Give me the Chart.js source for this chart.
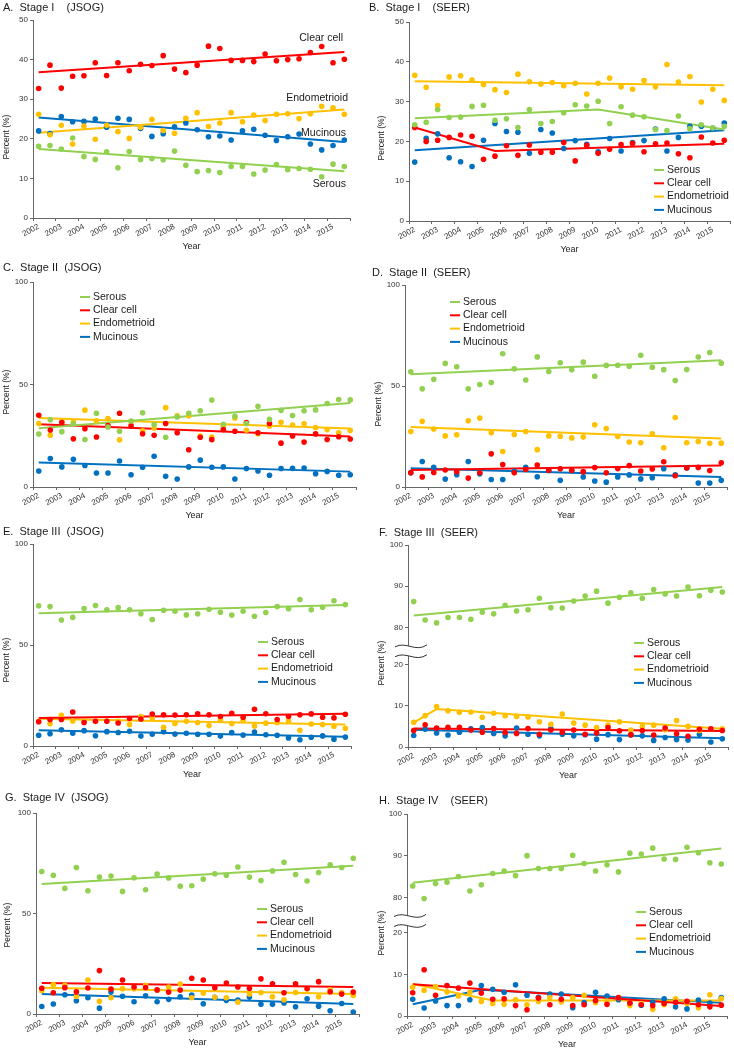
<!DOCTYPE html>
<html>
<head>
<meta charset="utf-8">
<script src="https://cdn.jsdelivr.net/npm/chart.js@4.4.0/dist/chart.umd.min.js"></script>
<style>
  body { margin: 0; background: #fff; width: 734px; height: 1050px; position: relative; overflow: hidden; font-family: "Liberation Sans", Arial, sans-serif; }
  canvas { position: absolute; }
  .ttl { position: absolute; font-size: 11px; line-height: 12px; white-space: pre; color: #1a1a1a; }
</style>
</head>
<body>
<script>
// x positions are half-years, 2002 (1st half) ... 2015 (2nd half)
const years = [2002, 2003, 2004, 2005, 2006, 2007, 2008, 2009, 2010, 2011, 2012, 2013, 2014, 2015];
const seriesNames = ['Serous', 'Clear cell', 'Endometrioid', 'Mucinous'];
const yTicksStage1 = [0, 10, 20, 30, 40, 50];
const yTicksFull = [0, 50, 100];
const yTicksLow = [0, 10, 20];
const yTicksHigh = [80, 90, 100];

// A. Stage I (JSOG)
const aSerous = [18.1, 18.3, 17.4, 20.2, 15.5, 14.8, 16.7, 12.7, 16.8, 14.8, 15.0, 14.7, 16.9, 13.3, 11.7, 12.0, 11.5, 13.0, 13.0, 11.1, 12.1, 13.5, 12.2, 12.5, 12.3, 10.4, 13.6, 13.0];
const aClear = [32.7, 38.6, 32.8, 35.8, 35.9, 39.2, 36.0, 39.2, 37.2, 38.8, 38.5, 41.0, 37.6, 36.7, 38.6, 43.4, 42.8, 39.8, 39.8, 39.5, 41.4, 39.7, 40.0, 40.2, 41.8, 43.3, 39.2, 40.1];
const aEndo = [26.2, 21.0, 23.4, 18.7, 23.2, 19.9, 23.4, 21.8, 20.1, 22.9, 24.9, 22.1, 21.4, 25.2, 26.6, 23.1, 24.0, 26.6, 24.3, 26.0, 24.6, 26.2, 26.3, 25.1, 26.3, 28.2, 27.8, 26.2];
const aMuc = [22.0, 21.3, 25.6, 24.3, 24.4, 25.0, 22.9, 25.2, 24.9, 22.6, 20.6, 21.3, 23.0, 24.0, 22.3, 20.5, 20.7, 19.7, 22.0, 22.4, 20.9, 19.6, 20.5, 21.2, 18.7, 17.2, 18.3, 19.7];
const aSerousFit = [[0, 17.4], [27, 11.8]];
const aClearFit = [[0, 36.8], [27, 41.9]];
const aEndoFit = [[0, 21.5], [27, 27.4]];
const aMucFit = [[0, 25.4], [27, 19.2]];

// B. Stage I (SEER)
const bSerous = [24.2, 24.8, 28.0, 26.0, 26.1, 28.8, 29.1, 25.3, 25.7, 23.5, 28.0, 24.5, 25.0, 27.2, 29.2, 28.9, 30.1, 24.5, 28.7, 26.6, 26.2, 23.0, 22.7, 26.4, 23.2, 24.2, 23.4, 23.8];
const bClear = [23.5, 20.0, 20.3, 21.0, 21.6, 21.3, 15.5, 16.3, 18.9, 16.5, 19.1, 17.3, 17.3, 19.7, 15.1, 19.0, 17.0, 18.0, 19.2, 19.5, 17.4, 19.4, 19.6, 16.9, 15.9, 21.1, 19.6, 20.3];
const bEndo = [36.6, 33.6, 29.0, 36.2, 36.5, 35.4, 34.3, 33.0, 32.3, 36.9, 35.0, 34.4, 34.8, 34.0, 34.6, 31.9, 34.6, 35.9, 33.7, 33.1, 35.3, 33.7, 39.3, 34.9, 36.3, 29.9, 33.1, 30.3];
const bMuc = [14.8, 20.8, 21.9, 15.9, 14.9, 13.7, 20.3, 24.5, 22.5, 22.3, 17.0, 23.0, 22.1, 18.2, 20.2, 19.3, 17.4, 20.7, 17.6, 19.7, 20.2, 23.1, 17.6, 21.0, 23.8, 23.8, 23.3, 24.6];
const bSerousFit = [[0, 25.8], [16, 28.0], [27, 23.0]];
const bClearFit = [[0, 23.5], [7, 17.6], [27, 19.4]];
const bEndoFit = [[0, 35.1], [27, 34.1]];
const bMucFit = [[0, 17.8], [27, 22.8]];

// C. Stage II (JSOG)
const cSerous = [25.8, 32.8, 27.0, 30.8, 23.2, 36.0, 29.3, 27.2, 32.2, 36.2, 30.5, 24.3, 34.2, 36.0, 37.2, 42.4, 30.6, 34.5, 31.0, 39.4, 33.0, 37.4, 34.9, 37.2, 37.6, 40.7, 42.7, 42.5];
const cClear = [35.0, 27.8, 31.5, 23.5, 28.4, 24.4, 30.0, 36.0, 29.8, 26.0, 25.2, 31.0, 26.5, 18.2, 24.3, 23.1, 28.0, 27.2, 31.5, 26.5, 31.0, 21.4, 24.9, 21.9, 25.9, 23.2, 24.5, 23.4];
const cEndo = [31.0, 25.3, 31.9, 31.7, 37.5, 32.3, 33.4, 23.0, 31.8, 27.4, 28.8, 38.7, 34.7, 34.7, 24.9, 24.4, 29.6, 33.7, 27.7, 26.0, 29.8, 31.6, 30.2, 30.8, 29.0, 28.0, 26.5, 27.6];
const cMuc = [7.8, 13.9, 9.8, 13.5, 10.5, 6.8, 6.8, 12.7, 6.0, 9.6, 15.0, 5.2, 3.9, 9.8, 13.1, 9.6, 9.8, 3.9, 9.0, 7.8, 5.7, 9.0, 9.1, 9.3, 6.5, 7.6, 5.7, 6.0];
const cSerousFit = [[0, 28.6], [27, 41.0]];
const cClearFit = [[0, 30.6], [27, 24.6]];
const cEndoFit = [[0, 33.6], [27, 28.5]];
const cMucFit = [[0, 12.0], [27, 7.5]];

// D. Stage II (SEER)
const dSerous = [57.0, 48.6, 53.3, 61.2, 59.5, 48.6, 50.7, 51.7, 66.0, 58.5, 53.0, 64.4, 57.2, 61.5, 58.0, 61.8, 54.8, 60.2, 60.3, 59.8, 65.2, 59.3, 58.1, 52.7, 58.2, 64.3, 66.6, 61.3];
const dClear = [7.0, 5.0, 7.2, 8.4, 7.6, 4.4, 7.0, 16.4, 11.1, 7.0, 8.7, 10.9, 8.3, 9.0, 8.3, 7.6, 9.6, 7.0, 9.1, 10.6, 7.9, 8.9, 12.5, 5.6, 9.4, 9.7, 8.2, 12.0];
const dEndo = [27.5, 32.5, 28.7, 25.3, 25.9, 32.8, 34.1, 26.8, 17.6, 26.0, 27.5, 18.5, 25.3, 25.0, 24.3, 24.7, 30.8, 28.9, 25.0, 22.3, 21.9, 26.3, 19.4, 34.4, 21.9, 22.5, 21.6, 21.7];
const dMuc = [7.0, 12.6, 9.7, 3.9, 6.1, 12.6, 6.5, 3.7, 3.7, 7.8, 9.7, 5.1, 8.2, 3.3, 8.2, 5.0, 3.0, 2.4, 5.0, 6.0, 4.0, 4.6, 9.0, 6.0, 9.4, 2.0, 2.0, 3.3];
const dSerousFit = [[0, 55.8], [27, 62.8]];
const dClearFit = [[0, 8.4], [27, 10.6]];
const dEndoFit = [[0, 29.7], [27, 24.0]];
const dMucFit = [[0, 9.3], [27, 5.0]];

// E. Stage III (JSOG)
const eSerous = [69.4, 69.0, 62.4, 63.7, 68.1, 69.5, 67.4, 68.5, 67.4, 65.5, 62.6, 67.2, 66.7, 64.9, 65.5, 67.7, 66.2, 64.8, 66.7, 64.2, 66.1, 69.0, 68.0, 72.5, 67.4, 68.7, 71.9, 70.0];
const eClear = [12.0, 13.1, 13.1, 16.8, 11.6, 12.2, 12.2, 11.4, 13.6, 13.4, 15.8, 15.5, 15.3, 15.5, 15.9, 15.5, 14.6, 16.2, 14.2, 18.2, 16.0, 13.1, 14.6, 15.5, 15.9, 14.2, 13.9, 15.7];
const eEndo = [12.2, 11.1, 15.2, 12.4, 12.2, 12.4, 12.4, 12.2, 10.6, 14.6, 13.9, 9.3, 11.2, 12.2, 11.6, 10.1, 12.9, 11.1, 12.6, 9.9, 11.3, 11.6, 12.4, 7.8, 10.9, 10.6, 9.8, 8.8];
const eMuc = [5.3, 6.1, 8.0, 6.3, 7.6, 5.1, 7.1, 6.7, 7.3, 4.9, 5.9, 7.1, 5.9, 6.3, 5.8, 5.8, 4.9, 6.6, 5.4, 6.9, 5.6, 5.3, 4.0, 3.1, 4.3, 5.0, 3.4, 4.4];
const eSerousFit = [[0, 65.7], [27, 69.8]];
const eClearFit = [[0, 13.9], [27, 16.0]];
const eEndoFit = [[0, 13.5], [27, 10.6]];
const eMucFit = [[0, 7.8], [27, 4.6]];

// F. Stage III (SEER)
const fSerous = [86.3, 81.8, 81.1, 82.4, 82.4, 82.0, 83.7, 83.3, 85.4, 84.0, 84.3, 87.1, 84.8, 84.7, 86.4, 87.6, 88.8, 85.9, 87.3, 88.4, 87.1, 89.2, 88.1, 87.6, 89.8, 87.7, 89.0, 88.6];
const fClear = [4.0, 5.4, 4.6, 4.8, 4.8, 4.1, 3.6, 4.5, 3.5, 3.3, 4.5, 3.1, 4.1, 3.6, 4.1, 3.1, 3.4, 4.7, 3.9, 3.0, 4.0, 2.9, 4.6, 3.2, 2.6, 4.3, 4.4, 4.0];
const fEndo = [6.0, 7.6, 9.8, 8.8, 8.4, 8.5, 7.2, 8.2, 7.6, 7.4, 7.3, 6.1, 5.5, 8.0, 5.8, 5.3, 4.7, 5.3, 6.1, 4.1, 5.0, 5.3, 4.2, 6.4, 5.0, 4.0, 4.4, 4.4];
const fMuc = [2.8, 4.3, 3.4, 2.9, 3.6, 4.4, 4.7, 3.3, 2.7, 4.6, 3.1, 2.7, 4.5, 3.1, 2.7, 3.0, 1.9, 3.0, 1.8, 2.9, 2.7, 1.6, 2.3, 1.8, 1.7, 3.1, 1.2, 2.0];
const fSerousFit = [[0, 82.9], [27, 89.8]];
const fClearFit = [[0, 4.5], [27, 3.9]];
const fEndoFit = [[0, 5.9], [2, 9.2], [27, 4.4]];
const fMucFit = [[0, 4.2], [27, 2.1]];

// G. Stage IV (JSOG)
const gSerous = [70.9, 69.0, 62.5, 72.9, 61.3, 68.1, 68.6, 61.0, 67.8, 61.8, 69.6, 67.7, 63.6, 63.8, 67.1, 69.8, 69.0, 73.1, 68.1, 66.4, 71.2, 75.5, 69.4, 66.2, 70.4, 74.2, 72.9, 77.5];
const gClear = [12.8, 10.6, 13.1, 11.0, 12.9, 21.6, 12.4, 16.9, 13.4, 13.2, 12.0, 10.9, 11.9, 17.8, 16.9, 13.1, 15.4, 13.4, 12.7, 17.5, 15.0, 10.6, 15.0, 12.7, 16.1, 11.1, 9.9, 10.9];
const gEndo = [11.6, 14.6, 14.3, 8.8, 16.9, 6.3, 8.1, 12.6, 12.6, 14.3, 11.9, 13.4, 14.9, 8.1, 10.4, 8.3, 8.1, 5.9, 10.0, 10.7, 8.6, 7.1, 10.7, 12.4, 8.6, 12.1, 10.7, 9.2];
const gMuc = [3.7, 5.0, 9.6, 6.6, 8.1, 2.9, 10.9, 8.8, 6.1, 9.1, 6.1, 7.3, 8.6, 9.4, 5.1, 8.3, 6.8, 6.9, 8.4, 4.8, 4.8, 5.5, 3.6, 7.6, 3.9, 1.6, 5.2, 1.0];
const gSerousFit = [[0, 64.7], [27, 73.8]];
const gClearFit = [[0, 15.4], [27, 13.4]];
const gEndoFit = [[0, 13.1], [27, 9.9]];
const gMucFit = [[0, 9.9], [27, 5.0]];

// H. Stage IV (SEER)
const hSerous = [82.7, 79.7, 83.3, 83.6, 85.0, 81.5, 83.0, 85.7, 86.3, 85.2, 90.0, 86.9, 86.9, 86.9, 90.1, 88.1, 86.3, 87.8, 86.1, 90.6, 90.4, 91.8, 89.2, 89.1, 92.0, 90.7, 88.3, 88.0];
const hClear = [5.6, 11.1, 5.0, 7.3, 6.7, 7.9, 5.5, 4.0, 4.1, 2.5, 1.5, 4.3, 2.7, 4.0, 2.5, 2.7, 3.7, 2.8, 4.4, 3.1, 2.7, 2.5, 3.0, 3.3, 3.5, 2.7, 2.2, 2.6];
const hEndo = [6.9, 6.2, 7.1, 5.8, 4.8, 5.7, 3.5, 3.0, 2.8, 3.9, 2.7, 3.5, 4.4, 3.4, 4.4, 5.0, 3.2, 3.6, 4.4, 2.5, 3.0, 1.6, 2.7, 4.1, 3.0, 2.0, 5.1, 4.2];
const hMuc = [4.0, 1.9, 3.6, 2.5, 2.5, 3.9, 7.3, 6.4, 5.7, 7.5, 5.0, 4.5, 5.3, 5.3, 2.0, 3.2, 5.7, 4.8, 3.9, 3.0, 2.6, 3.3, 4.1, 2.2, 1.7, 3.8, 3.1, 4.4];
const hSerousFit = [[0, 83.5], [27, 91.7]];
const hClearFit = [[0, 7.6], [27, 2.4]];
const hEndoFit = [[0, 7.7], [7, 3.7], [27, 3.7]];
const hMucFit = [[0, 2.8], [6, 6.3], [27, 3.2]];

const colors = ['#92D050', '#FF0000', '#FFC000', '#0070C0'];
const FONT = '"Liberation Sans", Arial, sans-serif';
const AXIS = '#666666';
Chart.defaults.font.family = FONT;
Chart.defaults.color = '#333';

// layout of each panel, page coordinates: plot = [left, top, right, bottom]
const panels = [
  { title: 'A.  Stage I    (JSOG)', box: [0, 0], plot: [33, 20, 350, 218], titleAt: [3, 7], yTitleAt: [7, 137],
    yTicks: yTicksStage1, series: [aSerous, aClear, aEndo, aMuc], fits: [aSerousFit, aClearFit, aEndoFit, aMucFit],
    inline: [['Clear cell', 343, 38], ['Endometrioid', 348, 98], ['Mucinous', 346, 133], ['Serous', 346, 184]] },
  { title: 'B.  Stage I    (SEER)', box: [367, 0], plot: [409, 22, 730, 221], titleAt: [369, 7], yTitleAt: [382, 138],
    yTicks: yTicksStage1, series: [bSerous, bClear, bEndo, bMuc], fits: [bSerousFit, bClearFit, bEndoFit, bMucFit],
    legendAt: [654, 170] },
  { title: 'C.  Stage II  (JSOG)', box: [0, 255], plot: [33, 282, 356, 487], titleAt: [3, 267], yTitleAt: [7, 392],
    yTicks: yTicksFull, series: [cSerous, cClear, cEndo, cMuc], fits: [cSerousFit, cClearFit, cEndoFit, cMucFit],
    legendAt: [80, 297] },
  { title: 'D.  Stage II  (SEER)', box: [367, 255], plot: [405, 285, 727, 487], titleAt: [372, 272], yTitleAt: [379, 404],
    yTicks: yTicksFull, series: [dSerous, dClear, dEndo, dMuc], fits: [dSerousFit, dClearFit, dEndoFit, dMucFit],
    legendAt: [450, 302] },
  { title: 'E.  Stage III  (JSOG)', box: [0, 520], plot: [33, 544, 351, 746], titleAt: [3, 531], yTitleAt: [7, 660],
    yTicks: yTicksFull, series: [eSerous, eClear, eEndo, eMuc], fits: [eSerousFit, eClearFit, eEndoFit, eMucFit],
    legendAt: [258, 642] },
  { title: 'F.  Stage III  (SEER)', box: [367, 520], plot: [408, 545, 728, 747], titleAt: [379, 532], yTitleAt: [382, 663],
    broken: { topMin: 71, waves: [75.3, 72.9] }, series: [fSerous, fClear, fEndo, fMuc], fits: [fSerousFit, fClearFit, fEndoFit, fMucFit],
    legendAt: [634, 643] },
  { title: 'G.  Stage IV  (JSOG)', box: [0, 785], plot: [36, 813, 359, 1014], titleAt: [5, 797], yTitleAt: [8, 925],
    yTicks: yTicksFull, series: [gSerous, gClear, gEndo, gMuc], fits: [gSerousFit, gClearFit, gEndoFit, gMucFit],
    legendAt: [257, 909] },
  { title: 'H.  Stage IV    (SEER)', box: [367, 785], plot: [407, 814, 727, 1016], titleAt: [379, 800], yTitleAt: [382, 933],
    broken: { topMin: 71.5, waves: [75.4, 73.0] }, series: [hSerous, hClear, hEndo, hMuc], fits: [hSerousFit, hClearFit, hEndoFit, hMucFit],
    legendAt: [636, 912] }
];

// titles, legends, inline labels and axis-break marks
const extras = {
  id: 'extras',
  afterDraw(chart, args, o) {
    const ctx = chart.ctx;
    ctx.save();
    ctx.fillStyle = '#222';
    ctx.translate(o.yTitle[0], o.yTitle[1]);
    ctx.rotate(-Math.PI / 2);
    ctx.font = '8.5px ' + FONT;
    ctx.textAlign = 'center';
    ctx.textBaseline = 'middle';
    ctx.fillText('Percent (%)', 0, 0);
    ctx.restore();

    ctx.save();
    ctx.font = '10.5px ' + FONT;
    ctx.textBaseline = 'middle';
    ctx.fillStyle = '#1a1a1a';
    if (o.legend) {
      seriesNames.forEach((name, k) => {
        const y = o.legend[1] + k * 13.3;
        ctx.strokeStyle = colors[k];
        ctx.lineWidth = 2;
        ctx.beginPath();
        ctx.moveTo(o.legend[0], y);
        ctx.lineTo(o.legend[0] + 10, y);
        ctx.stroke();
        ctx.textAlign = 'left';
        ctx.fillText(name, o.legend[0] + 13, y);
      });
    }
    if (o.inline) {
      ctx.textAlign = 'right';
      o.inline.forEach(([t, x, y]) => ctx.fillText(t, x, y));
    }
    ctx.restore();

    if (o.waves) {
      const s = chart.scales.yTop;
      const ax = chart.chartArea.left;
      const x0 = ax - 13, x1 = ax + 19, w = x1 - x0;
      const ys = o.waves.map(v => s.getPixelForValue(v));
      const path = (y, rev) => {
        if (!rev) {
          ctx.bezierCurveTo(x0 + w * 0.35, y - 6, x0 + w * 0.65, y + 6, x1, y - 2);
        } else {
          ctx.bezierCurveTo(x0 + w * 0.65, y + 6, x0 + w * 0.35, y - 6, x0, y);
        }
      };
      ctx.save();
      ctx.fillStyle = '#fff';
      ctx.beginPath();
      ctx.moveTo(x0, ys[0]);
      path(ys[0], false);
      ctx.lineTo(x1, ys[1] - 2);
      path(ys[1], true);
      ctx.closePath();
      ctx.fill();
      ctx.strokeStyle = '#333';
      ctx.lineWidth = 1;
      ys.forEach(y => {
        ctx.beginPath();
        ctx.moveTo(x0, y);
        path(y, false);
        ctx.stroke();
      });
      ctx.restore();
    }
  }
};

function yScale(L, min, max, ticks, extra) {
  return Object.assign({
    type: 'linear',
    position: 'left',
    min: min,
    max: max,
    afterBuildTicks: s => { s.ticks = ticks.map(v => ({ value: v })); },
    grid: { drawOnChartArea: false, color: AXIS, tickLength: 3 },
    border: { color: AXIS, width: 1 },
    ticks: { font: { size: 8 }, color: '#333', padding: 2 },
    afterFit: s => { s.width = L; s.paddingTop = 0; s.paddingBottom = 0; }
  }, extra || {});
}

function buildPanel(p) {
  const [bx, by] = p.box;
  const L = p.plot[0] - bx, T = p.plot[1] - by, R = p.plot[2] - bx, B = p.plot[3] - by;
  const xAxisH = 34;
  const ch = B + xAxisH + 2;

  const cv = document.createElement('canvas');
  cv.width = 367;
  cv.height = ch;
  cv.style.left = bx + 'px';
  cv.style.top = by + 'px';
  cv.style.width = '367px';
  cv.style.height = ch + 'px';
  document.body.appendChild(cv);

  const tt = document.createElement('div');
  tt.className = 'ttl';
  tt.textContent = p.title;
  tt.style.left = p.titleAt[0] + 'px';
  tt.style.top = (p.titleAt[1] - 6) + 'px';
  document.body.appendChild(tt);

  const scales = {
    x: {
      type: 'linear',
      min: -0.5,
      max: 27.5,
      afterBuildTicks: s => {
        s.ticks = years.map((_, k) => ({ value: -0.5 + 2 * k })).concat([{ value: 27.5 }]);
      },
      ticks: {
        autoSkip: false,
        minRotation: 28,
        maxRotation: 28,
        padding: 1,
        labelOffset: (R - L) / 56,
        font: { size: 8 },
        color: '#333',
        callback: (v, i) => (i < years.length ? String(years[i]) : '')
      },
      grid: { drawOnChartArea: false, color: AXIS, tickLength: 3 },
      border: { color: AXIS, width: 1 },
      title: { display: true, text: 'Year', font: { size: 9 }, color: '#222', padding: 0 },
      afterFit: s => { s.height = xAxisH; s.paddingLeft = 0; s.paddingRight = 0; }
    }
  };
  let yIds;
  if (p.broken) {
    // stacked left axes: the one declared first ends up at the bottom
    scales.yBot = yScale(L, 0, 20, yTicksLow, { stack: 'y', stackWeight: 20 });
    scales.yTop = yScale(L, p.broken.topMin, 100, yTicksHigh, { stack: 'y', stackWeight: 100 - p.broken.topMin });
    yIds = ['yTop', 'yBot', 'yBot', 'yBot'];
  } else {
    scales.y = yScale(L, 0, p.yTicks[p.yTicks.length - 1], p.yTicks);
    yIds = ['y', 'y', 'y', 'y'];
  }

  const datasets = [];
  p.series.forEach((vals, k) => {
    datasets.push({
      label: seriesNames[k],
      data: vals.map((v, i) => ({ x: i, y: v })),
      showLine: false,
      backgroundColor: colors[k],
      borderColor: colors[k],
      borderWidth: 0,
      pointRadius: 2.8,
      yAxisID: yIds[k]
    });
  });
  p.fits.forEach((f, k) => {
    datasets.push({
      label: seriesNames[k] + ' trend',
      data: f.map(([x, y]) => ({ x: x, y: y })),
      showLine: true,
      borderColor: colors[k],
      borderWidth: 2,
      pointRadius: 0,
      yAxisID: yIds[k]
    });
  });

  const rel = pt => (pt ? [pt[0] - bx, pt[1] - by] : null);
  new Chart(cv, {
    type: 'scatter',
    data: { datasets },
    options: {
      responsive: false,
      animation: false,
      devicePixelRatio: 1,
      events: [],
      layout: { padding: { left: 0, top: T, right: 367 - R, bottom: ch - B - xAxisH } },
      scales,
      plugins: {
        legend: { display: false },
        tooltip: { enabled: false },
        extras: {
          yTitle: rel(p.yTitleAt),
          legend: rel(p.legendAt),
          inline: p.inline ? p.inline.map(([t, x, y]) => [t, x - bx, y - by]) : null,
          waves: p.broken ? p.broken.waves : null
        }
      }
    },
    plugins: [extras]
  });
}

panels.forEach(buildPanel);
</script>
</body>
</html>
